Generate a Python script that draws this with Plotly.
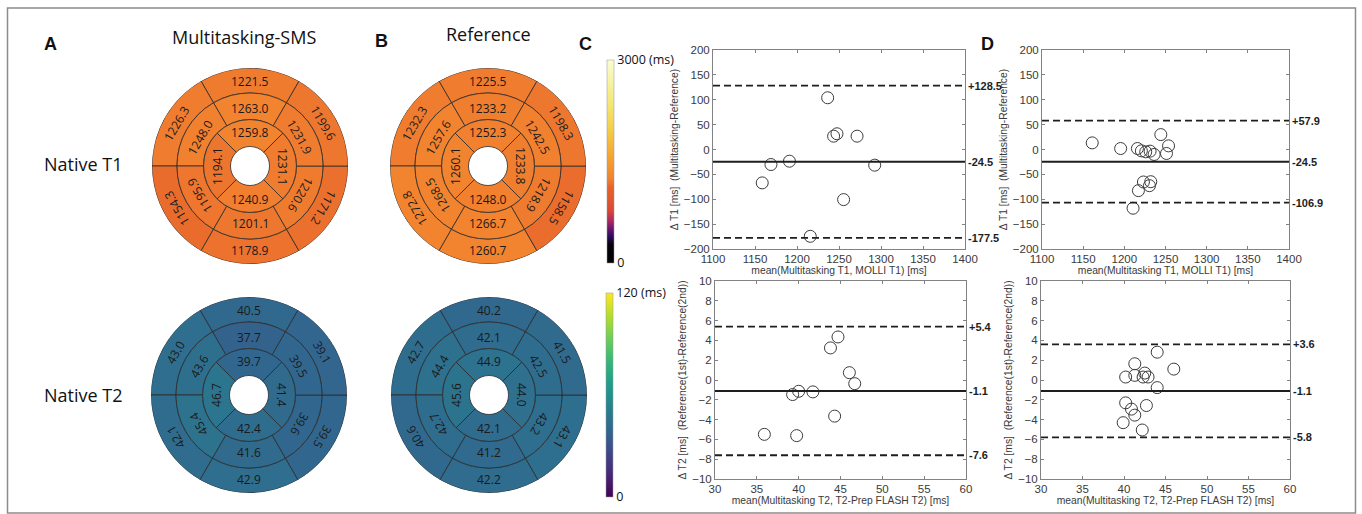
import math
import plotly.graph_objects as go

W, H = 1362, 514

# ---------------- data ----------------
SEG6_ANGLES = [90, 150, 210, 270, 330, 30]
SEG4_ANGLES = [90, 180, 270, 0]

A_T1_BASAL = [1221.5, 1226.3, 1154.3, 1178.9, 1171.2, 1199.6]
A_T1_MID = [1263.0, 1248.0, 1195.9, 1201.1, 1220.6, 1231.9]
A_T1_APICAL = [1259.8, 1194.1, 1240.9, 1231.1]
B_T1_BASAL = [1225.5, 1232.3, 1272.8, 1260.7, 1158.5, 1198.3]
B_T1_MID = [1233.2, 1257.6, 1268.5, 1266.7, 1218.9, 1242.5]
B_T1_APICAL = [1252.3, 1260.1, 1248.0, 1233.8]
A_T2_BASAL = [40.5, 43.0, 42.1, 42.9, 39.5, 39.1]
A_T2_MID = [37.7, 43.6, 45.4, 41.6, 39.6, 39.5]
A_T2_APICAL = [39.7, 46.7, 42.4, 41.4]
B_T2_BASAL = [40.2, 42.7, 40.6, 42.2, 43.1, 41.5]
B_T2_MID = [42.1, 44.4, 42.7, 41.2, 43.2, 42.5]
B_T2_APICAL = [44.9, 45.6, 42.1, 44.0]

T1_RANGE = [0, 3000]
T2_RANGE = [0, 120]

C_T1_MEAN = [1236.5, 1243.6, 1247.6, 1271.5, 1191.0, 1169.0, 1292.5, 1158.6, 1255.5, 1215.8]
C_T1_DIFF = [104.0, 26.8, 31.6, 26.8, -23.5, -30.2, -31.5, -67.1, -100.7, -174.5]
C_T1_LINES = [128.5, -24.5, -177.5]

D_T1_MEAN = [1161.0, 1195.5, 1215.9, 1220.7, 1226.0, 1231.3, 1236.2, 1244.3, 1253.7, 1251.2,
             1217.1, 1223.2, 1230.5, 1232.1, 1210.6]
D_T1_DIFF = [13.3, 2.0, 2.0, -2.7, -4.7, -3.3, -10.0, 30.0, 7.3, -8.0,
             -82.7, -65.3, -72.7, -64.7, -118.0]
D_T1_LINES = [57.9, -24.5, -106.9]

C_T2_MEAN = [35.9, 39.76, 39.28, 40.0, 41.7, 43.8, 44.7, 46.06, 46.7, 44.3]
C_T2_DIFF = [-5.49, -5.62, -1.47, -1.14, -1.2, 3.24, 4.35, 0.74, -0.37, -3.65]
C_T2_LINES = [5.4, -1.1, -7.6]

D_T2_MEAN = [44.0, 41.3, 40.2, 41.3, 42.5, 42.3, 42.9, 46.0, 44.0, 40.2, 40.9, 41.3, 42.7, 39.9, 42.2]
D_T2_DIFF = [2.81, 1.64, 0.30, 0.47, 0.70, 0.30, 0.30, 1.10, -0.77, -2.31, -2.94, -3.55, -2.58, -4.31, -5.05]
D_T2_LINES = [3.6, -1.1, -5.8]

T1_XTICKS = [1100, 1150, 1200, 1250, 1300, 1350, 1400]
T1_YTICKS = [-200, -150, -100, -50, 0, 50, 100, 150, 200]
T2_XTICKS = [30, 35, 40, 45, 50, 55, 60]
T2_YTICKS = [-10, -8, -6, -4, -2, 0, 2, 4, 6, 8, 10]

T1_XTITLE = "mean(Multitasking T1, MOLLI T1) [ms]"
T1_YTITLE = "Δ T1 [ms]  (Multitasking-Reference)"
T2_XTITLE = "mean(Multitasking T2, T2-Prep FLASH T2) [ms]"
T2_YTITLE = "Δ T2 [ms]  (Reference(1st)-Reference(2nd))"

# ---------------- style ----------------
T1_SCALE = [
    [0.0, "#000000"], [0.09, "#060309"], [0.13, "#2e0b5e"], [0.17, "#6b1670"],
    [0.21, "#b22a5e"], [0.26, "#db4836"], [0.33, "#e45c2c"], [0.37, "#e6622c"],
    [0.40, "#ee772f"], [0.42, "#f2832f"], [0.46, "#f4902f"], [0.55, "#f5ad33"],
    [0.65, "#f5cc45"], [0.78, "#f3e773"], [0.9, "#f7f3a4"], [1.0, "#fbfbd4"],
]
RING_EDGES = [0.199, 0.474, 0.745, 1.0]   # apical inner, apical/mid, mid/basal, outer
TEXT_R = [0.337, 0.59, 0.864]              # apical, mid, basal text radius

SANS = "Open Sans, Lato, sans-serif"
ARIAL = "Liberation Sans, Arial, sans-serif"


def px_x(v):
    return v / W


def px_y(v):
    return 1 - v / H


def seg_rotation(theta):
    if theta == 270:
        return 0
    a = 90 - theta
    while a <= -180:
        a += 360
    while a > 180:
        a -= 360
    return a


fig = go.Figure()
annotations = []

bullseyes = [
    ("polar", 5, (250, 166), "coloraxis", A_T1_BASAL, A_T1_MID, A_T1_APICAL),
    ("polar2", 6, (488, 166), "coloraxis", B_T1_BASAL, B_T1_MID, B_T1_APICAL),
    ("polar3", 7, (249, 395), "coloraxis2", A_T2_BASAL, A_T2_MID, A_T2_APICAL),
    ("polar4", 8, (489, 395), "coloraxis2", B_T2_BASAL, B_T2_MID, B_T2_APICAL),
]
RADIUS = 98
layout_extra = {}
for pname, axn, (cx, cy), cax, basal, mid, apical in bullseyes:
    thetas = SEG6_ANGLES + SEG6_ANGLES + SEG4_ANGLES
    widths = [60] * 12 + [90] * 4
    bases = [RING_EDGES[2]] * 6 + [RING_EDGES[1]] * 6 + [RING_EDGES[0]] * 4
    rs = ([RING_EDGES[3] - RING_EDGES[2]] * 6 + [RING_EDGES[2] - RING_EDGES[1]] * 6
          + [RING_EDGES[1] - RING_EDGES[0]] * 4)
    vals = list(basal) + list(mid) + list(apical)
    fig.add_trace(go.Barpolar(
        r=rs, base=bases, theta=thetas, width=widths,
        marker=dict(color=vals, coloraxis=cax, line=dict(color="#2b2b2b", width=0.8)),
        subplot=pname, hoverinfo="skip", showlegend=False,
    ))
    dom_x = [px_x(cx - RADIUS), px_x(cx + RADIUS)]
    dom_y = [px_y(cy + RADIUS), px_y(cy - RADIUS)]
    layout_extra[pname] = dict(
        domain=dict(x=dom_x, y=dom_y), bgcolor="rgba(0,0,0,0)",
        radialaxis=dict(visible=False, range=[0, 1], showgrid=False),
        angularaxis=dict(visible=False, rotation=0, direction="counterclockwise", showgrid=False),
    )
    layout_extra[f"xaxis{axn}"] = dict(domain=dom_x, range=[-1, 1], visible=False, fixedrange=True)
    layout_extra[f"yaxis{axn}"] = dict(domain=dom_y, range=[-1, 1], visible=False, fixedrange=True)
    fig.add_trace(go.Scatter(x=[], y=[], xaxis=f"x{axn}", yaxis=f"y{axn}", showlegend=False))
    rings = [(basal, SEG6_ANGLES, TEXT_R[2]), (mid, SEG6_ANGLES, TEXT_R[1]), (apical, SEG4_ANGLES, TEXT_R[0])]
    for values, angles, tr in rings:
        for v, th in zip(values, angles):
            annotations.append(dict(
                x=tr * math.cos(math.radians(th)), y=tr * math.sin(math.radians(th)),
                xref=f"x{axn}", yref=f"y{axn}", text=f"{v:.1f}", showarrow=False,
                textangle=seg_rotation(th), font=dict(family=SANS, size=12, color="#1a1a1a"),
                xanchor="center", yanchor="middle",
            ))

# ---------------- Bland-Altman plots ----------------
ba = [
    (1, (713, 965), (50, 249), C_T1_MEAN, C_T1_DIFF, C_T1_LINES, T1_XTICKS, T1_YTICKS, T1_XTITLE, T1_YTITLE),
    (2, (1042, 1289), (50, 249), D_T1_MEAN, D_T1_DIFF, D_T1_LINES, T1_XTICKS, T1_YTICKS, T1_XTITLE, T1_YTITLE),
    (3, (715, 966), (281, 479), C_T2_MEAN, C_T2_DIFF, C_T2_LINES, T2_XTICKS, T2_YTICKS, T2_XTITLE, T2_YTITLE),
    (4, (1041, 1290), (281, 479), D_T2_MEAN, D_T2_DIFF, D_T2_LINES, T2_XTICKS, T2_YTICKS, T2_XTITLE, T2_YTITLE),
]
shapes = []
AX_GRAY = "#828282"
TICK_FONT = dict(family=ARIAL, size=11.5, color="#3a3a3a")
TITLE_FONT = dict(family=ARIAL, size=10.3, color="#3a3a3a")
for n, (x0, x1), (y0, y1), xs, ys, lines, xt, yt, xtitle, ytitle in ba:
    suffix = "" if n == 1 else str(n)
    fig.add_trace(go.Scatter(
        x=xs, y=ys, mode="markers", xaxis=f"x{suffix}", yaxis=f"y{suffix}",
        marker=dict(symbol="circle-open", size=12, color="#3c3c3c", line=dict(width=1)),
        showlegend=False, hoverinfo="x+y",
    ))
    common = dict(showline=True, linecolor=AX_GRAY, linewidth=1, mirror="ticks", ticks="inside",
                  ticklen=3, tickcolor=AX_GRAY, showgrid=False, zeroline=False, tickfont=TICK_FONT,
                  automargin=False, fixedrange=True)
    layout_extra[f"xaxis{suffix}"] = dict(
        domain=[px_x(x0), px_x(x1)], range=[xt[0], xt[-1]], tickvals=xt, anchor=f"y{suffix}",
        title=dict(text=xtitle, font=TITLE_FONT, standoff=1), ticklabelstandoff=-1, **common)
    layout_extra[f"yaxis{suffix}"] = dict(
        domain=[px_y(y1), px_y(y0)], range=[yt[0], yt[-1]], tickvals=yt, anchor=f"x{suffix}",
        title=dict(text=ytitle, font=TITLE_FONT, standoff=3), ticklabelstandoff=0, **common)
    for i, v in enumerate(lines):
        dashed = i != 1
        shapes.append(dict(
            type="line", xref=f"x{suffix} domain", yref=f"y{suffix}", x0=0, x1=1, y0=v, y1=v,
            line=dict(color="#1e1e1e", width=2 if not dashed else 1.8, dash="7px,4px" if dashed else "solid"),
        ))
        label = f"{v:+.1f}" if dashed and v > 0 else f"{v:.1f}"
        annotations.append(dict(
            xref=f"x{suffix} domain", yref=f"y{suffix}", x=1, y=v, xanchor="left", yanchor="middle",
            xshift=1, text=f"<b>{label}</b>", showarrow=False,
            font=dict(family=ARIAL, size=11, color="#1e1e1e"),
        ))

# ---------------- titles / labels ----------------
TEXTS = [("A", 50, 44), ("B", 381, 41), ("C", 585, 44), ("D", 987, 44)]
for t, x, y in TEXTS:
    annotations.append(dict(xref="paper", yref="paper", x=px_x(x), y=px_y(y), text=f"<b>{t}</b>",
                            showarrow=False, font=dict(family=ARIAL, size=18, color="#111"),
                            xanchor="center", yanchor="middle"))
HEADERS = [("Multitasking-SMS", 244, 37), ("Reference", 488, 34), ("Native T1", 83, 164), ("Native T2", 83, 395)]
for t, x, y in HEADERS:
    annotations.append(dict(xref="paper", yref="paper", x=px_x(x), y=px_y(y), text=t, showarrow=False,
                            font=dict(family=SANS, size=18, color="#111"), xanchor="center", yanchor="middle"))

shapes.append(dict(type="rect", xref="paper", yref="paper", x0=px_x(7.5), x1=px_x(1355.5),
                   y0=px_y(513), y1=px_y(8), line=dict(color="#8c8c8c", width=1.5)))

CB_FONT = dict(family=SANS, size=12.5, color="#111")
fig.update_layout(
    width=W, height=H, margin=dict(l=0, r=0, t=0, b=0), paper_bgcolor="white", plot_bgcolor="white",
    showlegend=False, annotations=annotations, shapes=shapes,
    coloraxis=dict(
        cmin=T1_RANGE[0], cmax=T1_RANGE[1], colorscale=T1_SCALE,
        colorbar=dict(x=px_x(607), xanchor="left", y=px_y(60), yanchor="top", len=203, lenmode="pixels",
                      thickness=7, thicknessmode="pixels", xpad=0, ypad=0, outlinewidth=0.5,
                      outlinecolor="#999", tickvals=T1_RANGE, ticktext=["0", "3000 (ms)"], ticks="",
                      tickfont=CB_FONT)),
    coloraxis2=dict(
        cmin=T2_RANGE[0], cmax=T2_RANGE[1], colorscale="Viridis",
        colorbar=dict(x=px_x(606), xanchor="left", y=px_y(293), yanchor="top", len=204, lenmode="pixels",
                      thickness=7, thicknessmode="pixels", xpad=0, ypad=0, outlinewidth=0.5,
                      outlinecolor="#999", tickvals=T2_RANGE, ticktext=["0", "120 (ms)"], ticks="",
                      tickfont=CB_FONT)),
    **layout_extra,
)

fig.write_html("out.html", config={"displayModeBar": False},
               post_script="document.body.style.margin='0';document.body.style.overflow='hidden';")
